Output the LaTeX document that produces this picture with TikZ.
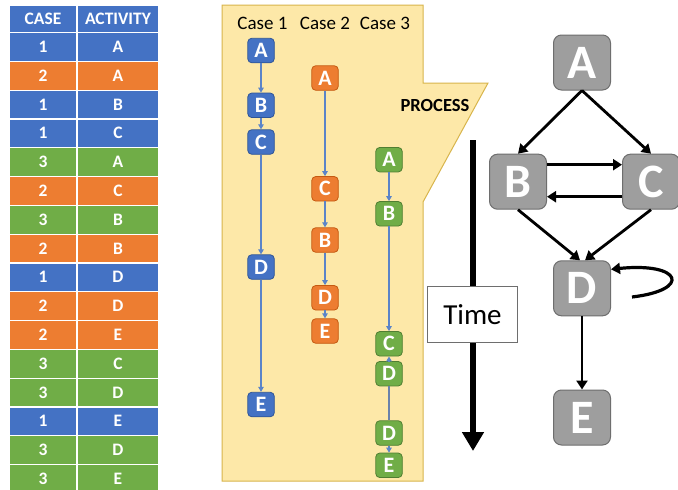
\documentclass[tikz,border=0pt]{standalone}
\usepackage{fontspec}
\setmainfont{Carlito}
\usetikzlibrary{arrows.meta}
\definecolor{cblue}{HTML}{4472C4}
\definecolor{corange}{HTML}{ED7D31}
\definecolor{cgreen}{HTML}{70AD47}
\definecolor{bblue}{HTML}{2F5597}
\definecolor{borange}{HTML}{C55A11}
\definecolor{bgreen}{HTML}{507E32}
\definecolor{yfill}{HTML}{FDE8A8}
\definecolor{yborder}{HTML}{D8B54C}
\definecolor{gfill}{HTML}{9E9E9E}
\definecolor{gborder}{HTML}{6E6E6E}
\definecolor{flowline}{HTML}{5B84C8}
\tikzset{
  cell/.style={draw=white, line width=1.2pt, text=white, font=\fontsize{17.5}{19}\selectfont\bfseries, inner sep=0pt, minimum height=28.8pt},
  snode/.style={rounded corners=4pt, line width=0.8pt, minimum width=26.5pt, minimum height=24.5pt, inner sep=0pt, text=white, font=\fontsize{22}{24}\selectfont\bfseries},
  bnode/.style={snode, fill=cblue, draw=bblue},
  onode/.style={snode, fill=corange, draw=borange},
  gnode/.style={snode, fill=cgreen, draw=bgreen},
  flow/.style={draw=flowline, line width=1.1pt, -{Triangle[width=5.5pt,length=5pt]}},
  bignode/.style={rounded corners=8pt, fill=gfill, draw=gborder, line width=1pt, minimum width=57pt, minimum height=55pt, inner sep=0pt, text=white, font=\fontsize{48}{50}\selectfont\bfseries},
  bigarrow/.style={draw=black, line width=2.8pt, -{Triangle[width=11pt,length=9pt]}},
}
\begin{document}
\begin{tikzpicture}[x=1pt,y=-1pt]
\useasboundingbox (0,0) rectangle (678,490);
\fill[white] (0,0) rectangle (678,490);
% ---------- table ----------
\node[cell, fill=cblue, minimum width=68pt, minimum height=27.5pt] (hcase) at (43,18.75) {CASE};
\node[cell, fill=cblue, minimum width=82pt, minimum height=27.5pt] (hact) at (118,18.75) {ACTIVITY};
\foreach \i/\c/\a/\col in {1/1/A/cblue,2/2/A/corange,3/1/B/cblue,4/1/C/cblue,5/3/A/cgreen,6/2/C/corange,7/3/B/cgreen,8/2/B/corange,9/1/D/cblue,10/2/D/corange,11/2/E/corange,12/3/C/cgreen,13/3/D/cgreen,14/1/E/cblue,15/3/D/cgreen,16/3/E/cgreen}{
  \node[cell, fill=\col, minimum width=68pt] (rc\i) at (43,{32.5+28.8*(\i-0.5)}) {\c};
  \node[cell, fill=\col, minimum width=82pt] (ra\i) at (118,{32.5+28.8*(\i-0.5)}) {\a};
}
% ---------- process panel ----------
\draw[fill=yfill, draw=yborder, line width=1pt] (222,5) -- (423,5) -- (423,83) -- (488,83) -- (423,202) -- (423,481) -- (222,481) -- cycle;
\node[font=\fontsize{19}{21}\selectfont] (case1) at (262.5,23) {Case 1};
\node[font=\fontsize{19}{21}\selectfont] (case2) at (325,23) {Case 2};
\node[font=\fontsize{19}{21}\selectfont] (case3) at (385,23) {Case 3};
\node[font=\fontsize{18.5}{20}\selectfont\bfseries] (proc) at (435,105) {PROCESS};
% case 1
\node[bnode] (a1) at (261,50.5) {A};
\node[bnode] (b1) at (261,105.3) {B};
\node[bnode] (c1) at (261,142) {C};
\node[bnode] (d1) at (261,267) {D};
\node[bnode] (e1) at (261,404.5) {E};
\draw[flow] (a1) -- (b1);
\draw[flow] (b1) -- (c1);
\draw[flow] (c1) -- (d1);
\draw[flow] (d1) -- (e1);
% case 2
\node[onode] (a2) at (325,78) {A};
\node[onode] (c2) at (325,188.8) {C};
\node[onode] (b2) at (325,240) {B};
\node[onode] (d2) at (325,297.8) {D};
\node[onode] (e2) at (325,331) {E};
\draw[flow] (a2) -- (c2);
\draw[flow] (c2) -- (b2);
\draw[flow] (b2) -- (d2);
\draw[flow] (d2) -- (e2);
% case 3
\node[gnode] (a3) at (389,159.7) {A};
\node[gnode] (b3) at (389,213.8) {B};
\node[gnode] (c3) at (389,343.8) {C};
\node[gnode] (d3) at (389,373.7) {D};
\node[gnode] (dd3) at (389,433) {D};
\node[gnode] (e3) at (389,465.3) {E};
\draw[flow] (a3) -- (b3);
\draw[flow] (b3) -- (c3);
\draw[flow] (d3) -- (c3);
\draw[draw=flowline!60!gray, line width=1.1pt] (d3) -- (dd3);
\draw[flow] (dd3) -- (e3);
% ---------- time ----------
\coordinate (tstart) at (473,140);
\coordinate (tend) at (473,451);
\draw[line width=6pt, -{Triangle[width=21pt,length=19pt]}] (tstart) -- (tend);
\node[draw=gborder, fill=white, line width=0.8pt, minimum width=90.5pt, minimum height=56.5pt, inner sep=0pt, font=\fontsize{29}{31}\selectfont] (time) at (472.5,314.5) {Time};
% ---------- process graph ----------
\node[bignode] (A) at (582,62.5) {A};
\node[bignode] (B) at (518,181.7) {B};
\node[bignode] (C) at (651,181.7) {C};
\node[bignode] (D) at (582,288.3) {D};
\node[bignode] (E) at (582,417.5) {E};
\draw[bigarrow] (A.south) -- (B.north);
\draw[bigarrow] (A.south) -- (C.north);
\draw[bigarrow] ([yshift=-11pt]B.north east) -- ([yshift=-11pt]C.north west);
\draw[bigarrow] ([yshift=-15pt]C.west) -- ([yshift=-15pt]B.east);
\draw[bigarrow] (B.south) -- ([xshift=-2pt]D.north);
\draw[bigarrow] (C.south) -- ([xshift=3pt]D.north);
\draw[bigarrow] (D) -- (E);
\coordinate (loopstart) at (632,297);
\draw[draw=black, line width=3.2pt, -{Triangle[width=11pt,length=9pt]}] (loopstart) .. controls (692,290) and (682,262) .. ([yshift=19pt]D.east);
\end{tikzpicture}
\end{document}
